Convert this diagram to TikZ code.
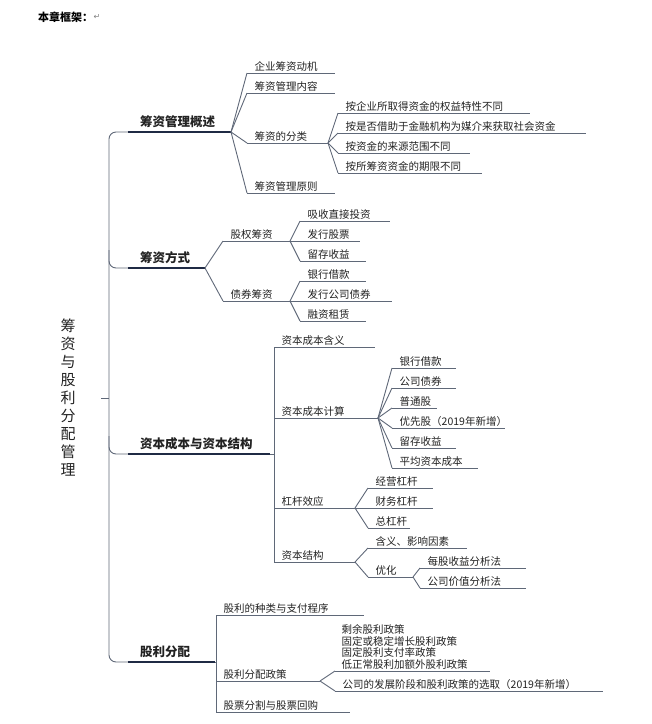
\documentclass[tikz,border=0pt]{standalone}
\usepackage{fontspec}
\setmainfont{Noto Sans CJK SC}
\newfontfamily\symfont{DejaVu Sans}
\definecolor{linegray}{HTML}{5F6878}
\definecolor{navy}{HTML}{1F2A44}
\definecolor{txt}{HTML}{222222}

% one underlined item: name, x start, y, x end, text
\newcommand{\leaf}[5]{%
  \coordinate (#1-s) at (#2,#3);
  \coordinate (#1-e) at (#4,#3);
  \draw[leafline] (#1-s) -- (#1-e);
  \node[leaftext] (#1) at (#1-s) {#5};
}
% one main branch: name, y, x end, text
\newcommand{\mainbranch}[4]{%
  \coordinate (#1-s) at (128,#2);
  \coordinate (#1-e) at (#3,#2);
  \draw[mainline] (#1-s) -- (#1-e);
  \node[maintext] (#1) at (#1-s) {#4};
}

\tikzset{
  leafline/.style={linegray, line width=0.9pt},
  mainline/.style={navy, line width=2.8pt},
  leaftext/.style={anchor=south west, inner sep=1.5pt, xshift=6pt, txt, font=\fontsize{10.5}{12}\selectfont},
  maintext/.style={anchor=south west, inner sep=4pt, xshift=8pt, txt, font=\fontsize{12.5}{14}\selectfont\bfseries},
  link/.style={linegray, line width=0.9pt},
}

\begin{document}
\begin{tikzpicture}[x=1pt, y=-1pt]
\useasboundingbox (0,0) rectangle (652,724);

% title
\node[anchor=west, inner sep=0pt, font=\fontsize{11}{13}\selectfont\bfseries] (title) at (38,17) {本章框架：};
\node[anchor=west, inner sep=0pt, gray, font=\symfont\fontsize{8}{9}\selectfont] (ret) at (title.east) {↵};

% root
\node[txt, align=center, font=\fontsize{15}{18}\selectfont] (root) at (68,398)
  {筹\\资\\与\\股\\利\\分\\配\\管\\理};
\coordinate (stub) at (101,398);
\coordinate (trunk) at (109,398);
\draw[link] (stub) -- (trunk);

% main branches
\mainbranch{b1}{132}{231}{筹资管理概述}
\mainbranch{b2}{268}{205}{筹资方式}
\mainbranch{b3}{454}{270}{资本成本与资本结构}
\mainbranch{b4}{662}{215}{股利分配}

% trunk
\draw[link, rounded corners=7pt] (b1-s) -- (109,132) -- (109,662) -- (b4-s);
\draw[link, rounded corners=7pt] (109,250) -- (109,268) -- (b2-s);
\draw[link, rounded corners=7pt] (109,436) -- (109,454) -- (b3-s);

% 筹资管理概述
\leaf{m1}{247}{73}{335}{企业筹资动机}
\leaf{m2}{247}{93}{335}{筹资管理内容}
\leaf{m3}{247}{143}{328}{筹资的分类}
\leaf{m4}{247}{193}{335}{筹资管理原则}
\leaf{k1}{338}{113}{530}{按企业所取得资金的权益特性不同}
\leaf{k2}{338}{133}{586}{按是否借助于金融机构为媒介来获取社会资金}
\leaf{k3}{338}{153}{470}{按资金的来源范围不同}
\leaf{k4}{338}{173}{482}{按所筹资资金的期限不同}
\foreach \c in {m1,m2,m3,m4} \draw[link] (b1-e) -- (\c-s);
\foreach \c in {k1,k2,k3,k4} \draw[link] (m3-e) -- (\c-s);

% 筹资方式
\leaf{f1}{223}{241}{290}{股权筹资}
\leaf{f2}{223}{301}{290}{债券筹资}
\leaf{g1}{300}{221}{390}{吸收直接投资}
\leaf{g2}{300}{241}{360}{发行股票}
\leaf{g3}{300}{261}{366}{留存收益}
\leaf{h1}{300}{281}{366}{银行借款}
\leaf{h2}{300}{301}{392}{发行公司债券}
\leaf{h3}{300}{321}{366}{融资租赁}
\foreach \c in {f1,f2} \draw[link] (b2-e) -- (\c-s);
\foreach \c in {g1,g2,g3} \draw[link] (f1-e) -- (\c-s);
\foreach \c in {h1,h2,h3} \draw[link] (f2-e) -- (\c-s);

% 资本成本与资本结构
\leaf{c1}{274}{347}{375}{资本成本含义}
\leaf{c2}{274}{418}{378}{资本成本计算}
\leaf{c3}{274}{508}{355}{杠杆效应}
\leaf{c4}{274}{562}{355}{资本结构}
\foreach \c in {c1,c2,c3,c4} \draw[link] (b3-e) -| (\c-s);
\leaf{p1}{392}{368}{456}{银行借款}
\leaf{p2}{392}{388}{456}{公司债券}
\leaf{p3}{392}{408}{437}{普通股}
\leaf{p4}{392}{428}{505}{优先股（2019年新增）}
\leaf{p5}{392}{448}{456}{留存收益}
\leaf{p6}{392}{468}{478}{平均资本成本}
\foreach \c in {p1,p2,p3,p4,p5,p6} \draw[link] (c2-e) -- (\c-s);
\leaf{v1}{368}{488}{433}{经营杠杆}
\leaf{v2}{368}{508}{433}{财务杠杆}
\leaf{v3}{368}{528}{410}{总杠杆}
\foreach \c in {v1,v2,v3} \draw[link] (c3-e) -- (\c-s);
\leaf{s1}{368}{548}{467}{含义、影响因素}
\leaf{s2}{368}{577}{413}{优化}
\foreach \c in {s1,s2} \draw[link] (c4-e) -- (\c-s);
\leaf{o1}{420}{568}{526}{每股收益分析法}
\leaf{o2}{420}{588}{526}{公司价值分析法}
\foreach \c in {o1,o2} \draw[link] (s2-e) -- (\c-s);

% 股利分配
\leaf{d1}{216}{615}{364}{股利的种类与支付程序}
\leaf{d2}{216}{681}{320}{股利分配政策}
\leaf{d3}{216}{712}{350}{股票分割与股票回购}
\foreach \c in {d1,d2,d3} \draw[link] (b4-e) -| (\c-s);
\coordinate (q1-s) at (335,671);
\coordinate (q1-e) at (490,671);
\draw[leafline] (q1-s) -- (q1-e);
\node[leaftext, align=left, xshift=-1pt, font=\fontsize{10.5}{11.5}\selectfont] (q1) at (q1-s)
  {剩余股利政策\\固定或稳定增长股利政策\\固定股利支付率政策\\低正常股利加额外股利政策};
\leaf{q2}{335}{691}{603}{公司的发展阶段和股利政策的选取（2019年新增）}
\foreach \c in {q1,q2} \draw[link] (d2-e) -- (\c-s);
\end{tikzpicture}
\end{document}
